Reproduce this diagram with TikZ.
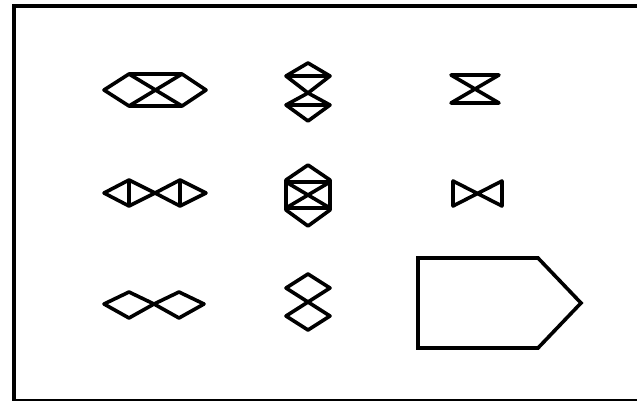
\documentclass[tikz,border=0pt]{standalone}
\begin{document}
\begin{tikzpicture}[x=1pt,y=-1pt,
  glyph/.style={draw=black,line width=3.6pt,line join=round},
  frame/.style={draw=black}]
\useasboundingbox (0,0) rectangle (637,402);
\fill[white] (0,0) rectangle (637,402);
% frame
\draw[frame,line width=4pt] (12,6) -- (637,6);
\draw[frame,line width=3.2pt] (14,6) -- (14,401);
\draw[frame,line width=1.5pt] (14,400) -- (637,400);
% row 1, col 1: hexagon with X
\draw[glyph] (104,90) -- (129,74) -- (182,74) -- (206,90) -- (182,106) -- (129,106) -- cycle;
\draw[glyph] (129,74) -- (182,106) (182,74) -- (129,106);
% row 1, col 2: stacked diamonds with horizontal diagonals
\draw[glyph] (308,63) -- (330,76) -- (308,93) -- (286,76) -- cycle;
\draw[glyph] (286,76) -- (330,76);
\draw[glyph] (308,93) -- (330,105) -- (308,121) -- (286,105) -- cycle;
\draw[glyph] (286,105) -- (330,105);
% row 1, col 3: hourglass
\draw[glyph] (451,75) -- (499,75) -- (451,103) -- (499,103) -- cycle;
% row 2, col 1: diamonds with vertical diagonals
\draw[glyph] (104,193) -- (129,180) -- (155,193) -- (129,206) -- cycle;
\draw[glyph] (129,180) -- (129,206);
\draw[glyph] (155,193) -- (180,180) -- (206,193) -- (180,206) -- cycle;
\draw[glyph] (180,180) -- (180,206);
% row 2, col 2: hexagon with inscribed hourglass
\draw[glyph] (308,165) -- (330,180) -- (330,210) -- (308,226) -- (286,210) -- (286,180) -- cycle;
\draw[glyph] (286,182) -- (330,182) -- (286,208) -- (330,208) -- cycle;
% row 2, col 3: bowtie
\draw[glyph] (453,181) -- (453,206) -- (502,181) -- (502,206) -- cycle;
% row 3, col 1: plain diamonds
\draw[glyph] (104,304) -- (129,292) -- (154,304) -- (129,318) -- cycle;
\draw[glyph] (154,304) -- (179,292) -- (204,304) -- (179,318) -- cycle;
% row 3, col 2: stacked diamonds
\draw[glyph] (308,274) -- (330,288) -- (308,302) -- (286,288) -- cycle;
\draw[glyph] (308,302) -- (330,316) -- (308,330) -- (286,316) -- cycle;
% pentagon
\draw[glyph,line join=miter] (418,258) -- (538,258) -- (581,303) -- (538,348) -- (418,348) -- cycle;
\end{tikzpicture}
\end{document}
